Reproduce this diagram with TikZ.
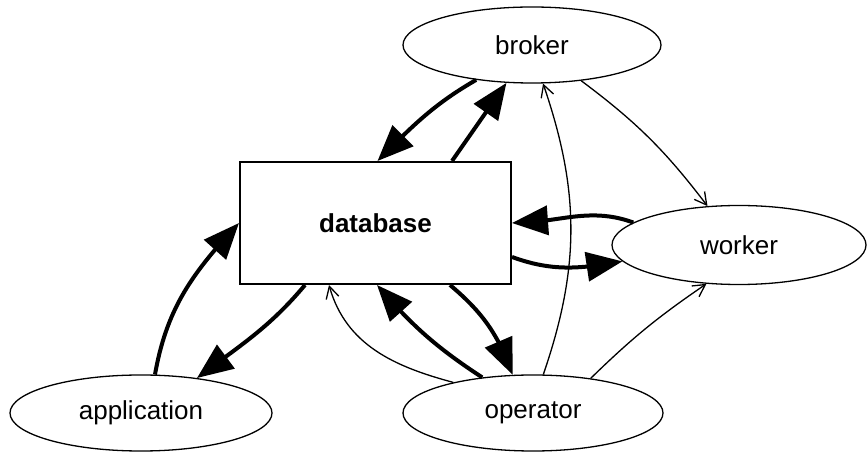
\documentclass[tikz,border=0pt]{standalone}
\usepackage{fontspec}
\setmainfont{Liberation Sans}
\usetikzlibrary{shapes.geometric,arrows.meta,bending}

\begin{document}
\begin{tikzpicture}[x=1pt,y=1pt,
  ell/.style={draw, ellipse, line width=1.3pt, inner sep=0pt,
    font=\fontsize{26}{30}\selectfont},
  box/.style={draw, rectangle, line width=2pt, inner sep=0pt,
    font=\fontsize{26}{30}\selectfont\bfseries},
  heavy/.style={line width=4pt, -{Triangle[length=36pt,width=29pt]}},
  light/.style={line width=1.3pt, -{Straight Barb[length=12pt,width=13pt]}}]
\useasboundingbox (0,0) rectangle (867,452);

% components
\node[ell, minimum width=258pt, minimum height=76pt] (broker) at (532,407) {broker};
\node[ell, minimum width=254pt, minimum height=79pt] (worker) at (739,207) {worker};
\node[ell, minimum width=260pt, minimum height=76pt] (operator) at (533,39) {operator};
\node[ell, minimum width=262pt, minimum height=76pt] (application) at (141,39) {application};
\node[box, minimum width=271pt, minimum height=122pt] (db) at (375.5,229) {database};

% broker <-> database
\draw[heavy] (broker.212) to[out=210,in=45] ([xshift=2pt]db.north);
\draw[heavy] ([xshift=76.5pt]db.north) -- (broker.236);

% broker -> worker, operator -> broker
\draw[light] (broker.324) to[bend left=8] (worker.129);
\draw[light] (operator.75) to[bend right=19] (broker.286);

% worker <-> database
\draw[heavy] (worker.168) to[out=160,in=0] (db.east);
\draw[heavy] ([yshift=-34pt]db.east) to[out=-20,in=190] (worker.188);

% operator -> worker
\draw[light] (operator.31) to[bend left=5] (worker.230);

% operator <-> database
\draw[heavy] ([xshift=74.5pt]db.south) to[bend left=15] (operator.118);
\draw[heavy] (operator.145) to[bend left=8] ([xshift=1.5pt]db.south);
\draw[light] (operator.159) to[out=165,in=-75] ([xshift=-46.5pt]db.south);

% application <-> database
\draw[heavy] (application.70) to[out=80,in=227] (db.west);
\draw[heavy] ([xshift=-70.5pt]db.south) to[out=230,in=37] (application.32);
\end{tikzpicture}
\end{document}
